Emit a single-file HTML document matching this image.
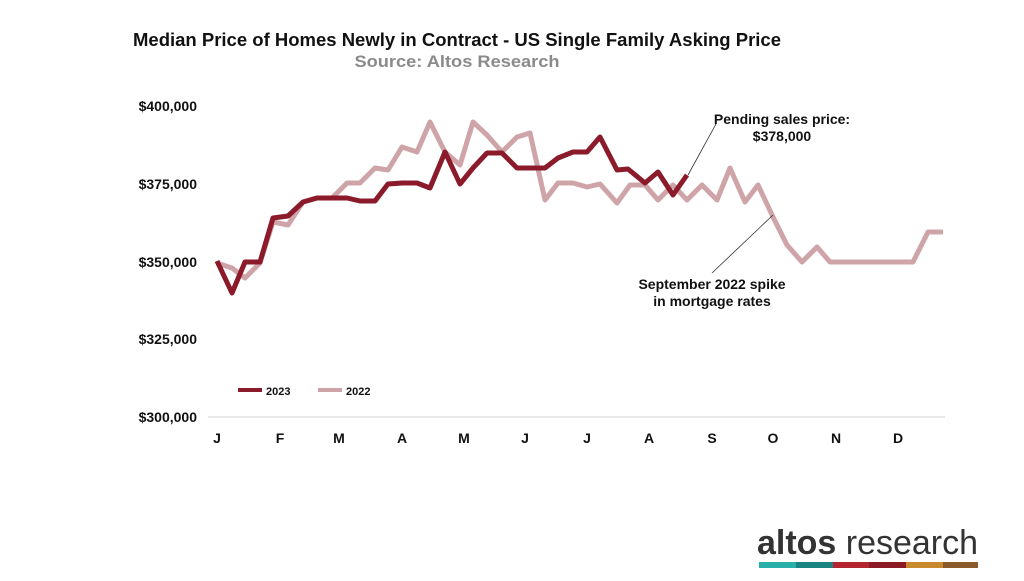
<!DOCTYPE html>
<html><head><meta charset="utf-8"><style>
body{margin:0;background:#fff;}
svg text{font-family:"Liberation Sans",sans-serif;}
</style></head><body>
<svg width="1024" height="576" viewBox="0 0 1024 576" xmlns="http://www.w3.org/2000/svg">
<text x="457" y="46" text-anchor="middle" font-size="18" font-weight="bold" fill="#111" textLength="648" lengthAdjust="spacingAndGlyphs">Median Price of Homes Newly in Contract - US Single Family Asking Price</text>
<text x="457" y="67" text-anchor="middle" font-size="17" font-weight="bold" fill="#8a8a8a" textLength="205" lengthAdjust="spacingAndGlyphs">Source: Altos Research</text>
<g font-size="14" font-weight="bold" fill="#111" text-anchor="end">
<text x="197" y="111">$400,000</text>
<text x="197" y="189">$375,000</text>
<text x="197" y="267">$350,000</text>
<text x="197" y="344">$325,000</text>
<text x="197" y="422">$300,000</text>
</g>
<line x1="208" y1="417" x2="945" y2="417" stroke="#d0d0d0" stroke-width="1"/>
<g font-size="14" font-weight="bold" fill="#111" text-anchor="middle">
<text x="217" y="443">J</text><text x="280" y="443">F</text><text x="339" y="443">M</text>
<text x="402" y="443">A</text><text x="464" y="443">M</text><text x="525" y="443">J</text>
<text x="587" y="443">J</text><text x="649" y="443">A</text><text x="712" y="443">S</text>
<text x="773" y="443">O</text><text x="836" y="443">N</text><text x="898" y="443">D</text>
</g>
<polyline fill="none" stroke="#cfa4a8" stroke-width="5" stroke-linejoin="round" points="217,263 232,268 245,278 260,263 273,222 288,225 303,202 317,198 332,198 347,183 360,183 375,168 388,170 402,147 417,152 430,122 445,152 460,165 473,122 487,135 502,152 517,137 530,133 545,200 558,183 573,183 587,187 600,184 617,203 630,185 645,185 658,200 673,185 687,200 702,185 717,200 730,168 745,202 758,185 773,217 787,245 802,262 817,247 830,262 845,262 913,262 928,232 943,232"/>
<polyline fill="none" stroke="#8b1a2b" stroke-width="5" stroke-linejoin="round" points="217,261 232,293 245,262 260,262 273,218 288,216 303,202 317,198 332,198 347,198 360,201 375,201 388,184 402,183 417,183 430,188 445,152 460,184 473,168 487,153 502,153 517,168 530,168 545,168 558,158 573,152 587,152 600,137 617,170 628,169 645,183 658,172 673,195 687,175"/>
<line x1="688" y1="175" x2="716" y2="124" stroke="#333" stroke-width="0.8"/>
<line x1="773" y1="215" x2="712" y2="273" stroke="#333" stroke-width="0.8"/>
<g font-size="14" font-weight="bold" fill="#111" text-anchor="middle">
<text x="782" y="124">Pending sales price:</text>
<text x="782" y="141">$378,000</text>
<text x="712" y="289">September 2022 spike</text>
<text x="712" y="306">in mortgage rates</text>
</g>
<line x1="238" y1="390" x2="262" y2="390" stroke="#8b1a2b" stroke-width="4"/>
<text x="266" y="395" font-size="11" font-weight="bold" fill="#111">2023</text>
<line x1="318" y1="390" x2="342" y2="390" stroke="#cfa4a8" stroke-width="4"/>
<text x="346" y="395" font-size="11" font-weight="bold" fill="#111">2022</text>
<text x="757" y="554" font-size="34" fill="#333" textLength="221" lengthAdjust="spacingAndGlyphs"><tspan font-weight="bold">altos</tspan> research</text>
<rect x="759" y="562" width="37" height="6" fill="#2ab0a8"/>
<rect x="796" y="562" width="37" height="6" fill="#1a8580"/>
<rect x="833" y="562" width="36" height="6" fill="#b5252f"/>
<rect x="869" y="562" width="37" height="6" fill="#8c1a25"/>
<rect x="906" y="562" width="37" height="6" fill="#c88a2c"/>
<rect x="943" y="562" width="35" height="6" fill="#8a5a2a"/>
</svg>
</body></html>
